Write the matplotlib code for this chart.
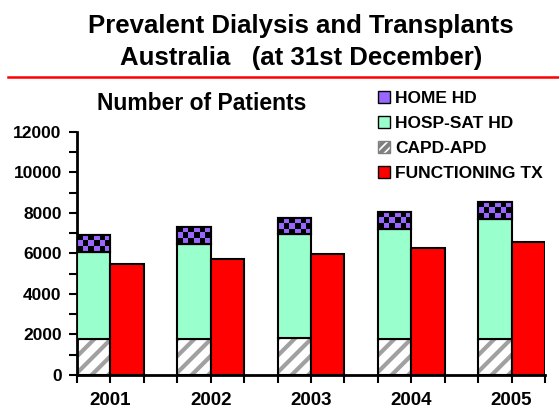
import numpy as np
import matplotlib
matplotlib.use("Agg")
import matplotlib.pyplot as plt
from matplotlib.colors import ListedColormap
from matplotlib.patches import Patch
from matplotlib.lines import Line2D

plt.rcParams['font.family'] = ['Liberation Sans', 'DejaVu Sans']
plt.rcParams['font.weight'] = 'bold'
plt.rcParams['hatch.linewidth'] = 3.0

# Data
years = ['2001', '2002', '2003', '2004', '2005']
capd_apd = [1790, 1790, 1840, 1790, 1780]
hosp_sat_hd = [4270, 4680, 5120, 5400, 5910]
home_hd = [850, 840, 780, 840, 850]
functioning_tx = [5500, 5740, 5980, 6270, 6580]

c_home = '#9966ff'
c_hosp = '#99ffcc'
c_tx = '#ff0000'

fig = plt.figure(figsize=(5.59, 4.08), dpi=100)
ax = fig.add_axes([0.1377, 0.081, 0.975 - 0.1377, 0.677 - 0.081])

x = np.arange(len(years)) * 3
w = 1.0
capd = np.array(capd_apd)
hosp = np.array(hosp_sat_hd)
home = np.array(home_hd)

# CAPD-APD: grey stripes, then black outline
ax.bar(x, capd, w, align='edge', color='white', edgecolor='#a0a0a0',
       hatch='//', linewidth=0, zorder=2)
ax.bar(x, capd, w, align='edge', fill=False, edgecolor='black',
       linewidth=1.5, zorder=3)
ax.bar(x, hosp, w, bottom=capd, align='edge', color=c_hosp,
       edgecolor='black', linewidth=1.5, zorder=3)
home_bars = ax.bar(x, home, w, bottom=capd + hosp, align='edge',
                   color=c_home, edgecolor='black', linewidth=1.5, zorder=3)
ax.bar(x + w, functioning_tx, w, align='edge', color=c_tx,
       edgecolor='black', linewidth=1.5, zorder=3)

# checkerboard on HOME HD
cmap = ListedColormap(['black', c_home])
for b in home_bars:
    bx, by = b.get_x(), b.get_y()
    bw, bh = b.get_width(), b.get_height()
    nr = max(2, int(round(bh / 280.0)))
    nc = 6
    board = (np.add.outer(np.arange(nr), np.arange(nc)) % 2)
    im = ax.imshow(board, cmap=cmap, extent=(bx, bx + bw, by, by + bh),
                   aspect='auto', interpolation='nearest', zorder=3.5)
    im.set_clip_path(b)
    ax.add_patch(plt.Rectangle((bx, by), bw, bh, fill=False,
                               edgecolor='black', linewidth=1.5, zorder=4))

ax.set_xlim(0, 14)
ax.set_ylim(0, 12000)
ax.set_xticks(np.arange(0, 15))
ax.set_xticklabels([])
ax.set_yticks(np.arange(0, 12001, 2000))
ax.set_yticks(np.arange(1000, 12000, 2000), minor=True)
ax.tick_params(axis='y', which='major', labelsize=12.5, length=6, width=1.5,
               direction='out', pad=5)
ax.tick_params(axis='y', which='minor', length=6, width=1.5, direction='out')
ax.tick_params(axis='x', which='major', length=6, width=1.5, direction='out')
for lab in ax.get_yticklabels():
    lab.set_fontweight('bold')
for i, yr in enumerate(years):
    ax.text(x[i] + w, -1500, yr, ha='center', va='baseline', fontsize=13.5,
            fontweight='bold', clip_on=False)

for s in ['top', 'right']:
    ax.spines[s].set_visible(False)
for s in ['left', 'bottom']:
    ax.spines[s].set_linewidth(2)

handles = [
    Patch(facecolor=c_home, edgecolor='black', linewidth=1),
    Patch(facecolor=c_hosp, edgecolor='black', linewidth=1),
    Patch(facecolor='white', edgecolor='#808080', hatch='////', linewidth=1),
    Patch(facecolor=c_tx, edgecolor='black', linewidth=1),
]
labels = ['HOME HD', 'HOSP-SAT HD', 'CAPD-APD', 'FUNCTIONING TX']
fig.legend(handles, labels, loc='upper left', bbox_to_anchor=(0.676, 0.777),
           frameon=False, handlelength=0.7, handleheight=0.7,
           handletextpad=0.3, labelspacing=0.56, borderpad=0,
           borderaxespad=0, prop={'weight': 'bold', 'size': 12.5})

fig.text(0.3605, 0.730, 'Number of Patients', ha='center', va='baseline',
         fontsize=16.5, fontweight='bold')

fig.text(0.539, 0.919, 'Prevalent Dialysis and Transplants', ha='center',
         va='baseline', fontsize=18.5, fontweight='bold')
fig.text(0.539, 0.841, 'Australia   (at 31st December)', ha='center',
         va='baseline', fontsize=18.5, fontweight='bold')
fig.add_artist(Line2D([0.014, 1.0], [0.811, 0.811], color='red',
                      linewidth=1.8, transform=fig.transFigure))

fig.savefig('out.png', dpi=100)
